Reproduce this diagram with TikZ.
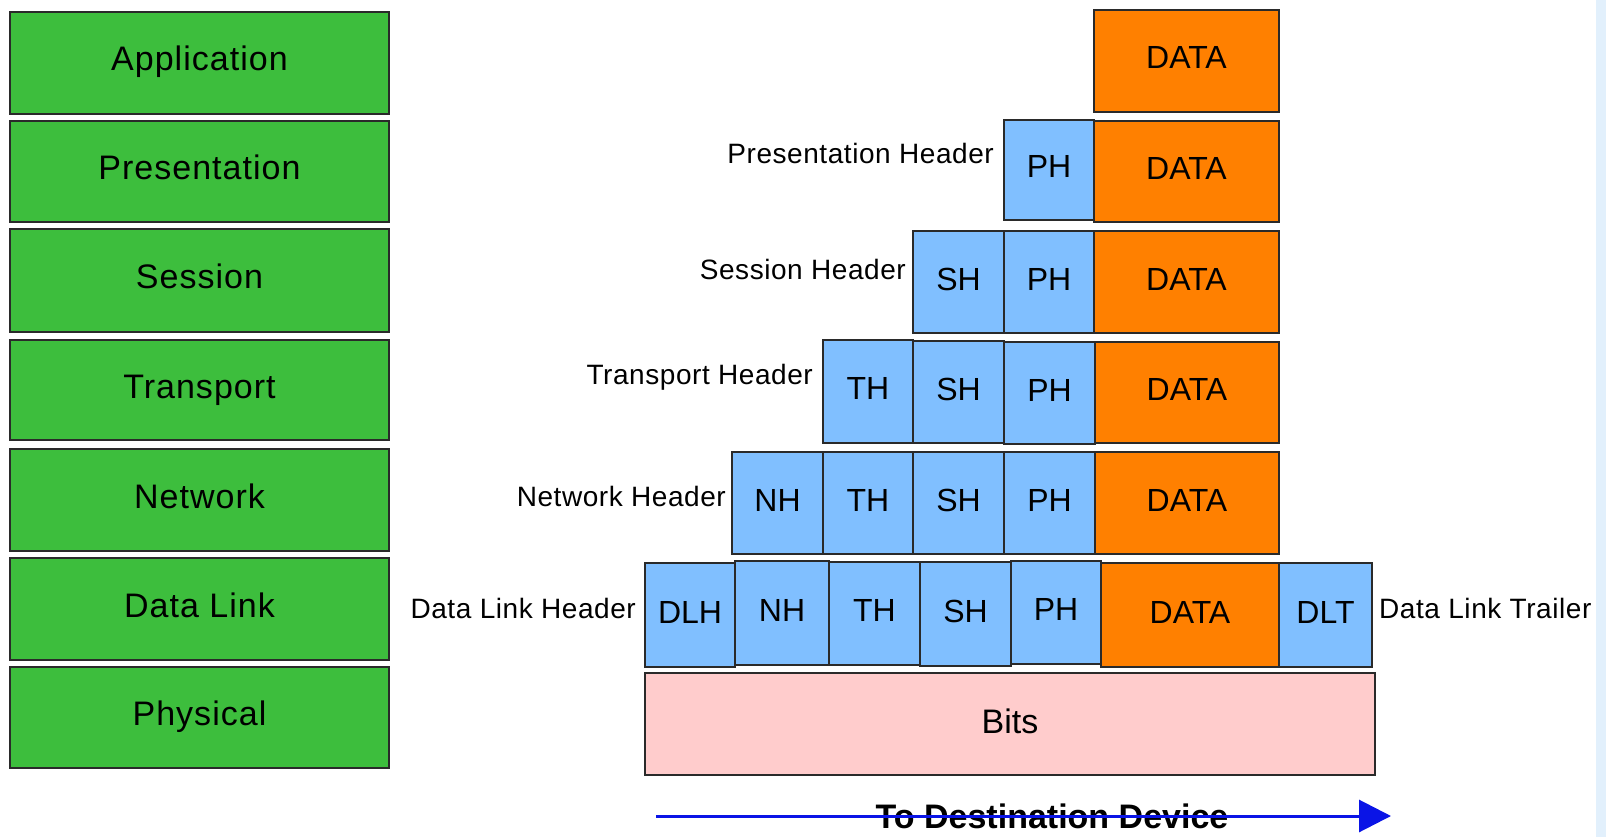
\documentclass[tikz,border=0pt]{standalone}
\usepackage{fontspec}
\setmainfont{Liberation Sans}
\newfontfamily\layerfont[LetterSpace=3]{Liberation Sans}
\newfontfamily\hdrfont[LetterSpace=2]{Liberation Sans}
\usetikzlibrary{arrows.meta}
\definecolor{layergreen}{HTML}{3DBE3D}
\definecolor{hdrblue}{HTML}{80BFFF}
\definecolor{dataorange}{HTML}{FF8000}
\definecolor{bitspink}{HTML}{FFCCCC}
\definecolor{edgegray}{HTML}{2A2A2A}
\definecolor{stripblue}{HTML}{E2F0FC}
\definecolor{arrowblue}{HTML}{0A14E6}
\tikzset{
  box/.style={draw=edgegray, line width=1.4pt, anchor=north west, inner sep=0pt, outer sep=0pt},
  layer/.style={box, fill=layergreen, font=\layerfont\fontsize{34}{40}\selectfont, text height=25pt, text depth=9pt},
  hbox/.style={box, fill=hdrblue, font=\fontsize{32}{38}\selectfont, text height=23pt, text depth=7pt},
  dbox/.style={box, fill=dataorange, font=\fontsize{32}{38}\selectfont, text height=23pt, text depth=7pt},
  bbox/.style={box, fill=bitspink, font=\fontsize{34}{40}\selectfont, text height=25pt, text depth=7pt},
  hdrlabel/.style={font=\hdrfont\fontsize{28}{34}\selectfont, inner sep=0pt},
  desttext/.style={font=\bfseries\fontsize{34}{40}\selectfont, inner sep=0pt},
  flow/.style={draw=arrowblue, line width=3pt, -{Triangle[length=32pt,width=32pt]}}
}
\newcommand\pkbox[7]{\node[#1, minimum width=#5pt, minimum height=#6pt] (#2) at (#3,#4) {#7};}
\begin{document}
\begin{tikzpicture}[x=1pt,y=-1pt]
\useasboundingbox (0,0) rectangle (1606,837);
\fill[white] (0,0) rectangle (1606,837);
\fill[stripblue] (1596,0) rectangle (1606,837);
% OSI layers
\pkbox{layer}{app}{10}{12}{379}{102}{Application}
\pkbox{layer}{pres}{10}{121}{379}{101}{Presentation}
\pkbox{layer}{sess}{10}{229}{379}{103}{Session}
\pkbox{layer}{trans}{10}{340}{379}{100}{Transport}
\pkbox{layer}{net}{10}{449}{379}{102}{Network}
\pkbox{layer}{dl}{10}{558}{379}{102}{Data Link}
\pkbox{layer}{phy}{10}{667}{379}{101}{Physical}
% row 1
\pkbox{dbox}{d1}{1094}{10}{185}{102}{DATA}
% row 2
\pkbox{hbox}{p2}{1004}{120}{90}{100}{PH}
\pkbox{dbox}{d2}{1094}{121}{185}{101}{DATA}
% row 3
\pkbox{hbox}{s3}{913}{231}{91}{102}{SH}
\pkbox{hbox}{p3}{1004}{231}{90}{102}{PH}
\pkbox{dbox}{d3}{1094}{231}{185}{102}{DATA}
% row 4
\pkbox{hbox}{t4}{823}{340}{90}{103}{TH}
\pkbox{hbox}{s4}{913}{341}{91}{102}{SH}
\pkbox{hbox}{p4}{1004}{342}{91}{102}{PH}
\pkbox{dbox}{d4}{1095}{342}{184}{101}{DATA}
% row 5
\pkbox{hbox}{n5}{732}{452}{91}{102}{NH}
\pkbox{hbox}{t5}{823}{452}{90}{102}{TH}
\pkbox{hbox}{s5}{913}{452}{91}{102}{SH}
\pkbox{hbox}{p5}{1004}{452}{91}{102}{PH}
\pkbox{dbox}{d5}{1095}{452}{184}{102}{DATA}
% row 6
\pkbox{hbox}{dlh}{645}{563}{90}{104}{DLH}
\pkbox{hbox}{n6}{735}{561}{94}{104}{NH}
\pkbox{hbox}{t6}{829}{562}{91}{103}{TH}
\pkbox{hbox}{s6}{920}{562}{91}{104}{SH}
\pkbox{hbox}{p6}{1011}{561}{90}{103}{PH}
\pkbox{dbox}{d6}{1101}{563}{178}{104}{DATA}
\pkbox{hbox}{dlt}{1279}{563}{93}{104}{DLT}
% bits
\pkbox{bbox}{bits}{645}{673}{730}{102}{Bits}
% header labels
\node[hdrlabel, anchor=east] (lph) at ([xshift=-10pt,yshift=17pt]p2.west) {Presentation Header};
\node[hdrlabel, anchor=east] (lsh) at ([xshift=-7pt,yshift=13pt]s3.west) {Session Header};
\node[hdrlabel, anchor=east] (lth) at ([xshift=-10pt,yshift=14pt]t4.west) {Transport Header};
\node[hdrlabel, anchor=east] (lnh) at ([xshift=-6pt,yshift=7pt]n5.west) {Network Header};
\node[hdrlabel, anchor=east] (ldlh) at ([xshift=-9pt,yshift=7pt]dlh.west) {Data Link Header};
\node[hdrlabel, anchor=west] (ldlt) at ([xshift=7pt,yshift=7pt]dlt.east) {Data Link Trailer};
% destination arrow
\node[desttext] (dest) at (1052,816) {To Destination Device};
\coordinate (fstart) at (656,816);
\coordinate (fend) at (1391,816);
\draw[flow] (fstart) -- (fend);
\end{tikzpicture}
\end{document}
